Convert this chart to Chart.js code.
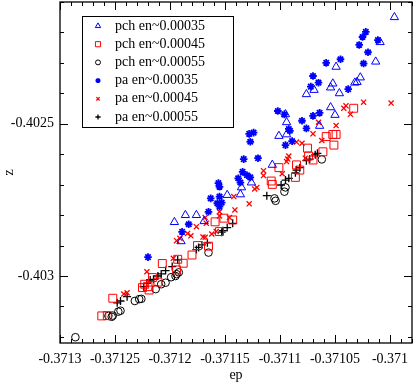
<!DOCTYPE html>
<html>
<head>
<meta charset="utf-8">
<script src="https://cdn.jsdelivr.net/npm/chart.js@4.4.1/dist/chart.umd.min.js"></script>
<style>
  body { margin: 0; background: #fff; }
  canvas { display: block; }
</style>
</head>
<body>
<canvas id="ep-chart" width="414" height="385"></canvas>
<script>
// legend names, in legend order
const seriesNames = [
  "pch en~0.00035",
  "pch en~0.00045",
  "pch en~0.00055",
  "pa en~0.00035",
  "pa en~0.00045",
  "pa en~0.00055",
]

// points are [ep, z]
const pch35 = [
  [-0.370996, -0.40215], [-0.371009, -0.402232], [-0.371013, -0.402296],
  [-0.371049, -0.402313], [-0.371027, -0.402348], [-0.37103, -0.402363],
  [-0.371032, -0.402365], [-0.371052, -0.402368], [-0.371054, -0.402381],
  [-0.371069, -0.402389], [-0.371076, -0.402403], [-0.371046, -0.4024],
  [-0.371054, -0.402446], [-0.37105, -0.402471], [-0.371095, -0.402469],
  [-0.371094, -0.402495], [-0.371064, -0.402507], [-0.371094, -0.402535],
  [-0.371101, -0.40254], [-0.371107, -0.402635], [-0.371126, -0.402693],
  [-0.371135, -0.402709], [-0.371136, -0.402732], [-0.371148, -0.402734],
  [-0.371176, -0.4028], [-0.371186, -0.4028], [-0.371196, -0.402823],
  [-0.371169, -0.40282], [-0.37119, -0.402886],
]

const pch45 = [
  [-0.371262, -0.403131], [-0.371257, -0.40313], [-0.371252, -0.403073],
  [-0.371225, -0.403038], [-0.371223, -0.403027], [-0.371219, -0.403046],
  [-0.37122, -0.403035], [-0.371216, -0.403005], [-0.371211, -0.40302],
  [-0.371207, -0.402959], [-0.371194, -0.40298], [-0.371193, -0.402945],
  [-0.371188, -0.402958], [-0.37118, -0.402931], [-0.371175, -0.4029],
  [-0.371165, -0.402902], [-0.371159, -0.402822], [-0.371151, -0.40281],
  [-0.371143, -0.402816], [-0.371155, -0.402854], [-0.371085, -0.402635],
  [-0.371101, -0.402644], [-0.371086, -0.402676], [-0.371074, -0.402606],
  [-0.371075, -0.40258], [-0.371108, -0.402688], [-0.371107, -0.402699],
  [-0.371082, -0.402652], [-0.37107, -0.402619], [-0.371061, -0.402592],
  [-0.371051, -0.40257], [-0.371058, -0.402542], [-0.371052, -0.402535],
  [-0.371049, -0.402535], [-0.371033, -0.402449],
]

const pch55 = [
  [-0.371286, -0.403201], [-0.371256, -0.403131], [-0.371253, -0.403134],
  [-0.371252, -0.40313], [-0.371247, -0.403117], [-0.371245, -0.403114],
  [-0.371232, -0.403082], [-0.371228, -0.403076], [-0.371226, -0.403075],
  [-0.371213, -0.403043], [-0.371208, -0.403027], [-0.371204, -0.403022],
  [-0.371199, -0.403004], [-0.371195, -0.403], [-0.371194, -0.402994],
  [-0.371192, -0.402988], [-0.371165, -0.402923], [-0.371105, -0.402745],
  [-0.371104, -0.402753], [-0.371096, -0.402723], [-0.371095, -0.402709],
  [-0.371062, -0.402617],
]

const pa35 = [
  [-0.371022, -0.402198], [-0.371025, -0.402215], [-0.371028, -0.402241],
  [-0.371011, -0.402225], [-0.37102, -0.402265], [-0.371024, -0.402302],
  [-0.371045, -0.402288], [-0.371058, -0.4023], [-0.37107, -0.402343],
  [-0.371065, -0.402365], [-0.371072, -0.402378], [-0.371038, -0.402386],
  [-0.371102, -0.402458], [-0.371096, -0.402469], [-0.37108, -0.40249],
  [-0.37107, -0.402474], [-0.371064, -0.402464], [-0.371092, -0.402517],
  [-0.371091, -0.402523], [-0.371076, -0.402515], [-0.371089, -0.402557],
  [-0.371095, -0.40257], [-0.371124, -0.402529], [-0.371128, -0.402533],
  [-0.371127, -0.402559], [-0.371133, -0.402616], [-0.37112, -0.402613],
  [-0.371134, -0.402658], [-0.37113, -0.402669], [-0.371127, -0.402676],
  [-0.371138, -0.402679], [-0.371136, -0.402693], [-0.371156, -0.402695],
  [-0.371155, -0.402707], [-0.371163, -0.402745], [-0.371155, -0.402739],
  [-0.371153, -0.402759], [-0.371157, -0.402761], [-0.371155, -0.402772],
  [-0.371165, -0.402789], [-0.371183, -0.40283], [-0.371189, -0.402855],
  [-0.37122, -0.402938],
]

const pa45 = [
  [-0.371242, -0.403059], [-0.371239, -0.403055], [-0.371221, -0.402986],
  [-0.371197, -0.402942], [-0.371194, -0.402884], [-0.371191, -0.402876],
  [-0.371184, -0.40286], [-0.371181, -0.402868], [-0.371176, -0.402838],
  [-0.37117, -0.402872], [-0.371168, -0.402873], [-0.371162, -0.402862],
  [-0.371158, -0.402854], [-0.371168, -0.402808], [-0.371167, -0.402827],
  [-0.371155, -0.402789], [-0.371155, -0.402803], [-0.371146, -0.402808],
  [-0.371142, -0.402739], [-0.371141, -0.402783], [-0.371128, -0.402763],
  [-0.371121, -0.402709], [-0.371123, -0.402714], [-0.371115, -0.402654],
  [-0.371115, -0.40267], [-0.371098, -0.402664], [-0.371092, -0.402606],
  [-0.371093, -0.402616], [-0.371094, -0.402624], [-0.371085, -0.40256],
  [-0.37108, -0.402564], [-0.371077, -0.402613], [-0.37107, -0.402533],
  [-0.371062, -0.402555], [-0.371065, -0.402495], [-0.371049, -0.402506],
  [-0.37104, -0.402441], [-0.371042, -0.402449], [-0.371036, -0.402469],
  [-0.371024, -0.402429], [-0.370999, -0.402432],
]

const pa55 = [
  [-0.371248, -0.403088], [-0.371245, -0.403082], [-0.371239, -0.403068],
  [-0.371224, -0.403035], [-0.371221, -0.403024], [-0.371218, -0.403013],
  [-0.371215, -0.403011], [-0.371211, -0.403], [-0.371208, -0.402993],
  [-0.371204, -0.402982], [-0.371198, -0.402969], [-0.371193, -0.402947],
  [-0.371176, -0.402913], [-0.371174, -0.402906], [-0.371171, -0.402898],
  [-0.371166, -0.402891], [-0.371153, -0.402856], [-0.371152, -0.402851],
  [-0.371148, -0.402841], [-0.371143, -0.402827], [-0.371112, -0.402736],
  [-0.371099, -0.402701], [-0.371095, -0.402685], [-0.371092, -0.402679],
  [-0.371086, -0.402661], [-0.371085, -0.402652], [-0.371082, -0.402644],
  [-0.371076, -0.402621], [-0.371073, -0.402616], [-0.371068, -0.402602],
  [-0.371066, -0.402597],
]

// axes
const xRange = [-0.3713, -0.37098]
const yRange = [-0.40322, -0.4021]
const xTicks = [-0.3713, -0.37125, -0.3712, -0.37115, -0.3711, -0.37105, -0.371]
const xTickLabels = ["-0.3713", "-0.37125", "-0.3712", "-0.37115", "-0.3711", "-0.37105", "-0.371"]
const yTicks = [-0.4025, -0.403]
const yTickLabels = ["-0.4025", "-0.403"]

const serif = "'Liberation Serif', 'Times New Roman', serif"
Chart.defaults.font.family = serif
Chart.defaults.font.size = 14
Chart.defaults.color = "#000"

const toPoints = (arr) => arr.map((p) => ({ x: p[0], y: p[1] }))

const styles = [
  { pointStyle: "triangle", pointRadius: 4.8, borderColor: "#0000ff", borderWidth: 1 },
  { pointStyle: "rect", pointRadius: 5.6, borderColor: "#ff0000", borderWidth: 1 },
  { pointStyle: "circle", pointRadius: 3.8, borderColor: "#000000", borderWidth: 1 },
  { pointStyle: "star", pointRadius: 3.8, borderColor: "#0000ff", borderWidth: 1.8 },
  { pointStyle: "crossRot", pointRadius: 3.6, borderColor: "#ff0000", borderWidth: 1.3 },
  { pointStyle: "cross", pointRadius: 4, borderColor: "#000000", borderWidth: 1.3 },
]

const seriesData = [pch35, pch45, pch55, pa35, pa45, pa55]

const datasets = seriesData.map((arr, i) => ({
  label: seriesNames[i],
  data: toPoints(arr),
  showLine: false,
  backgroundColor: "rgba(0,0,0,0)",
  ...styles[i],
}))

// frame + inward ticks on all four sides
const frameTicks = {
  id: "frameTicks",
  afterDraw(chart) {
    const { ctx, chartArea: a, scales: { x, y } } = chart
    ctx.save()
    ctx.strokeStyle = "#000"
    ctx.lineWidth = 1
    ctx.beginPath()
    let step = 0.00001
    for (let i = Math.ceil(x.min / step - 1e-6); i <= Math.floor(x.max / step + 1e-6); i++) {
      const px = Math.round(x.getPixelForValue(i * step)) + 0.5
      const len = i % 5 === 0 ? 8 : 4
      ctx.moveTo(px, a.bottom)
      ctx.lineTo(px, a.bottom - len)
      ctx.moveTo(px, a.top)
      ctx.lineTo(px, a.top + len)
    }
    step = 0.0001
    for (let i = Math.ceil(y.min / step - 1e-6); i <= Math.floor(y.max / step + 1e-6); i++) {
      const py = Math.round(y.getPixelForValue(i * step)) + 0.5
      const len = i % 5 === 0 ? 8 : 4
      ctx.moveTo(a.left, py)
      ctx.lineTo(a.left + len, py)
      ctx.moveTo(a.right, py)
      ctx.lineTo(a.right - len, py)
    }
    ctx.stroke()
    ctx.lineWidth = 1.3
    ctx.strokeRect(a.left, a.top, a.width, a.height)
    ctx.restore()
  },
}

// legend box in upper left of the plot
const legendBox = {
  id: "legendBox",
  afterDraw(chart) {
    const ctx = chart.ctx
    ctx.save()
    ctx.fillStyle = "#fff"
    ctx.fillRect(82.5, 16.5, 151, 111)
    ctx.strokeStyle = "#000"
    ctx.lineWidth = 1
    ctx.strokeRect(82.5, 16.5, 151, 111)
    chart.data.datasets.forEach((ds, i) => {
      const cy = 26 + i * 18.2
      ctx.strokeStyle = ds.borderColor
      ctx.fillStyle = ds.backgroundColor
      ctx.lineWidth = ds.borderWidth
      Chart.helpers.drawPoint(ctx, {
        pointStyle: ds.pointStyle,
        radius: ds.pointRadius * 0.65,
        borderWidth: ds.borderWidth,
        rotation: 0,
      }, 98, cy)
      ctx.fillStyle = "#000"
      ctx.font = "14px " + serif
      ctx.textBaseline = "middle"
      ctx.textAlign = "left"
      ctx.fillText(ds.label, 115, cy)
    })
    ctx.restore()
  },
}

new Chart(document.getElementById("ep-chart"), {
  type: "scatter",
  data: { datasets: datasets },
  options: {
    responsive: false,
    animation: false,
    events: [],
    layout: { autoPadding: false, padding: { top: 2, right: 2, left: 0, bottom: 0 } },
    plugins: {
      legend: { display: false },
      tooltip: { enabled: false },
    },
    scales: {
      x: {
        type: "linear",
        min: xRange[0],
        max: xRange[1],
        grid: { display: false, drawTicks: false },
        border: { display: false },
        afterBuildTicks: (scale) => {
          scale.ticks = xTicks.map((v) => ({ value: v }))
        },
        afterFit: (scale) => {
          scale.height = 42
          scale.paddingLeft = 0
          scale.paddingRight = 0
        },
        ticks: {
          padding: 8,
          maxRotation: 0,
          autoSkip: false,
          callback: (v, i) => xTickLabels[i],
        },
        title: { display: true, text: "ep", padding: { top: 0, bottom: 1 } },
      },
      y: {
        type: "linear",
        min: yRange[0],
        max: yRange[1],
        grid: { display: false, drawTicks: false },
        border: { display: false },
        afterBuildTicks: (scale) => {
          scale.ticks = yTicks.map((v) => ({ value: v }))
        },
        afterFit: (scale) => {
          scale.width = 60
          scale.paddingTop = 0
          scale.paddingBottom = 0
        },
        ticks: {
          padding: 6,
          autoSkip: false,
          callback: (v, i) => yTickLabels[i],
        },
        title: { display: true, text: "z", padding: { top: 1, bottom: 0 } },
      },
    },
  },
  plugins: [frameTicks, legendBox],
})
</script>
</body>
</html>
